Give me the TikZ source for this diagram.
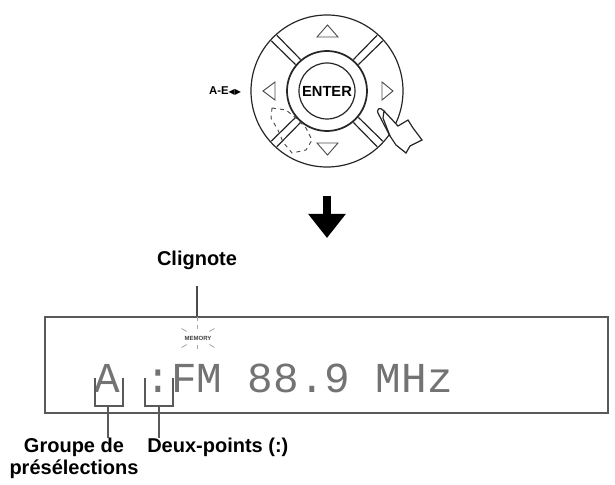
\documentclass[tikz,border=0pt]{standalone}
\usepackage{fontspec}
\setmainfont{Liberation Sans}
\newfontfamily\lcdfont{Liberation Mono}
\newfontfamily\djv{DejaVu Sans}
\usetikzlibrary{arrows.meta,calc}
\begin{document}
\begin{tikzpicture}[x=0.75pt,y=-0.75pt,
  line/.style={draw=black!85,line width=0.9pt},
  lbl/.style={font=\bfseries\fontsize{15}{16}\selectfont,inner sep=0pt,align=center},
  tri/.style={draw=black!70,line width=0.7pt}]
\useasboundingbox (0,0) rectangle (615,485);
% dial
\coordinate (c) at (327,91);
\draw[line] (c) circle (76);
\draw[line,line width=1.3pt] (c) circle (40);
\node[line,circle,minimum size=42pt,inner sep=0,font=\bfseries\fontsize{11}{12}\selectfont] (enter) at (c) {ENTER};
\foreach \a in {45,135,225,315}{
  \draw[line] ($(c)+(\a-5:41)$) -- ($(c)+(\a-3:75)$);
  \draw[line] ($(c)+(\a+5:41)$) -- ($(c)+(\a+3:75)$);
}
\draw[tri] (317,37) -- (338,37) -- (327.5,25) -- cycle;
\draw[tri] (317,143) -- (338,143) -- (327.5,155) -- cycle;
\draw[tri] (275,82) -- (275,100) -- (263,91) -- cycle;
\draw[tri] (382,82) -- (382,100) -- (393,91) -- cycle;
\node[font=\bfseries\fontsize{8.5}{9}\selectfont,inner sep=0] (ae) at (225,91) {A-E{\djv\fontsize{6}{7}\selectfont◀▶}};
% hands
\draw[line,fill=white] (384,111) -- (398,126) -- (408,120) -- (413,128) -- (422,140) -- (410,146) -- (406,153) -- (396,145) -- (390,136) -- (383,118) -- cycle;
\draw[line] (384,111) .. controls (380,106) and (375,109) .. (379,115) -- (390,136);
\draw[black!70,dashed,line width=0.7pt] (272,108) -- (286,110) -- (296,118) -- (306,128) -- (312,140) -- (306,150) -- (292,153) -- (283,142) -- (278,130) -- (271,118) -- cycle;
% arrow
\coordinate (a1) at (327,196);
\coordinate (a2) at (327,238);
\draw[line width=6pt,-{Triangle[length=18pt,width=27pt]}] (a1) -- (a2);
% clignote
\node[font=\bfseries\fontsize{15}{16}\selectfont,inner sep=0] (cl) at (197,260) {Clignote};
\coordinate (clb) at (197,286);
\coordinate (cle) at (197,317);
\draw[black!70,line width=1pt] (clb) -- (cle);
% display
\draw[black!65,line width=1.1pt] (45,317) rectangle (608,413);
\node[font=\fontsize{4.5}{5}\selectfont\bfseries,inner sep=0,text=black!75] (mem) at (198,338) {MEMORY};
\foreach \a in {30,150,210,330}{\draw[black!35,line width=0.6pt] ($(mem)+(\a:13)$) -- ($(mem)+(\a:19)$);}
\draw[black!35,line width=0.6pt,dashed] (cle) -- (197,330);
\draw[black!35,line width=0.6pt,dashed] (197,345) -- (197,352);
\node[font=\lcdfont\fontsize{32}{32}\selectfont,text=black!55,anchor=base west,inner sep=0] (lcd) at (94,392) {A :FM 88.9 MHz};
% brackets
\draw[black!65,line width=1pt] (95,378) -- (95,406) -- (123,406) -- (123,378);
\draw[black!65,line width=1pt] (145,378) -- (145,406) -- (173,406) -- (173,378);
\coordinate (b1) at (108,406);
\coordinate (b2) at (159,406);
\node[lbl,anchor=north] (grp) at (74,438) {Groupe de\\présélections};
\node[lbl,anchor=north west] (dp) at (147,438) {Deux-points (:)};
\draw[black!65,line width=1pt] (b1) -- (b1|-grp.north);
\draw[black!65,line width=1pt] (b2) -- (b2|-dp.north);
\end{tikzpicture}
\end{document}
